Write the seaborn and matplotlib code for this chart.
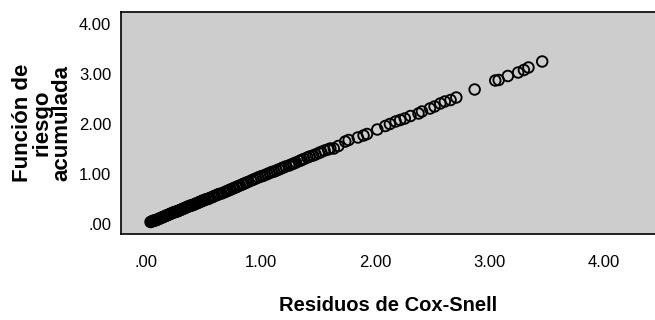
import matplotlib
matplotlib.use("Agg")
import matplotlib.pyplot as plt
import seaborn as sns
import pandas as pd

# Cox-Snell residuals and the cumulative hazard estimated on them
residuos = [
    0.04, 0.05, 0.06, 0.07, 0.08, 0.09, 0.10, 0.11, 0.12, 0.13, 0.14, 0.15,
    0.16, 0.17, 0.18, 0.19, 0.20, 0.21, 0.22, 0.23, 0.24, 0.25, 0.26, 0.27,
    0.28, 0.29, 0.30, 0.31, 0.32, 0.33, 0.34, 0.35, 0.36, 0.37, 0.38, 0.39,
    0.40, 0.41, 0.42, 0.43, 0.44, 0.45, 0.46, 0.47, 0.48, 0.49, 0.50, 0.51,
    0.52, 0.54, 0.55, 0.56, 0.58, 0.59, 0.60, 0.62, 0.63, 0.64, 0.66, 0.68,
    0.70, 0.71, 0.73, 0.74, 0.76, 0.77, 0.79, 0.80, 0.82, 0.84, 0.85, 0.87,
    0.89, 0.92, 0.94, 0.96, 0.98, 1.00, 1.02, 1.04, 1.06, 1.08, 1.10, 1.12,
    1.14, 1.16, 1.18, 1.20, 1.22, 1.25, 1.27, 1.29, 1.31, 1.34, 1.36, 1.38,
    1.41, 1.43, 1.46, 1.48, 1.51, 1.53, 1.56, 1.59, 1.61,
    1.64, 1.68, 1.74, 1.77, 1.85, 1.90, 1.93, 2.02, 2.09, 2.13, 2.18, 2.22,
    2.26, 2.31, 2.38, 2.41, 2.48, 2.52, 2.57, 2.61, 2.66, 2.71, 2.87, 3.05,
    3.08, 3.16, 3.25, 3.30, 3.34, 3.46,
]
riesgo = [
    0.04, 0.05, 0.06, 0.07, 0.07, 0.08, 0.09, 0.10, 0.11, 0.12, 0.13, 0.14,
    0.15, 0.16, 0.17, 0.18, 0.19, 0.20, 0.21, 0.22, 0.23, 0.24, 0.24, 0.25,
    0.26, 0.27, 0.28, 0.29, 0.30, 0.31, 0.32, 0.33, 0.34, 0.35, 0.36, 0.37,
    0.37, 0.38, 0.39, 0.40, 0.41, 0.42, 0.43, 0.44, 0.45, 0.46, 0.47, 0.48,
    0.49, 0.50, 0.51, 0.52, 0.54, 0.55, 0.56, 0.58, 0.59, 0.60, 0.61, 0.63,
    0.65, 0.66, 0.68, 0.69, 0.71, 0.72, 0.74, 0.75, 0.77, 0.79, 0.80, 0.82,
    0.84, 0.87, 0.89, 0.91, 0.93, 0.95, 0.96, 0.98, 1.00, 1.02, 1.04, 1.05,
    1.07, 1.09, 1.11, 1.13, 1.15, 1.17, 1.19, 1.21, 1.23, 1.26, 1.28, 1.30,
    1.33, 1.35, 1.37, 1.39, 1.42, 1.44, 1.47, 1.49, 1.51,
    1.51, 1.56, 1.65, 1.68, 1.73, 1.77, 1.80, 1.89, 1.96, 2.00, 2.05, 2.08,
    2.11, 2.16, 2.21, 2.25, 2.31, 2.35, 2.41, 2.45, 2.48, 2.53, 2.69, 2.87,
    2.88, 2.96, 3.03, 3.08, 3.13, 3.25,
]

x_ticks = [0, 1, 2, 3, 4]
x_labels = [".00", "1.00", "2.00", "3.00", "4.00"]
y_ticks = [0, 1, 2, 3, 4]
y_labels = [".00", "1.00", "2.00", "3.00", "4.00"]

df = pd.DataFrame({"Residuos de Cox-Snell": residuos,
                   "Función de riesgo acumulada": riesgo})

sns.set_style("white")
fonts = ["Liberation Sans Narrow", "Liberation Sans", "DejaVu Sans"]
plt.rcParams["font.family"] = fonts
plt.rcParams["text.color"] = "black"
plt.rcParams["axes.labelcolor"] = "black"

fig = plt.figure(figsize=(6.55, 3.2), dpi=100)
ax = fig.add_axes([121 / 655, 1 - 234 / 320, 1 - 121 / 655, (234 - 12) / 320])
ax.set_facecolor("#cdcdcd")

sns.scatterplot(data=df, x="Residuos de Cox-Snell", y="Función de riesgo acumulada",
                ax=ax, marker="o", s=58, facecolors="none", edgecolor="black",
                linewidth=1.35, legend=False)

ax.set_xlim(-0.218, 4.445)
ax.set_ylim(-0.2, 4.24)

ax.set_xticks(x_ticks)
ax.set_xticklabels(x_labels)
ax.set_yticks(y_ticks)
ax.set_yticklabels(y_labels)
ax.tick_params(axis="x", direction="out", length=9, width=1.2, pad=6,
               labelsize=12, colors="black")
ax.tick_params(axis="y", direction="out", length=6, width=1.2, pad=1,
               labelsize=12, colors="black")

for side in ("left", "bottom", "top"):
    ax.spines[side].set_visible(True)
    ax.spines[side].set_color("black")
    ax.spines[side].set_linewidth(1.2)
ax.spines["right"].set_visible(False)

ax.set_xlabel("Residuos de Cox-Snell", fontsize=14.5, fontweight="bold",
              family=fonts, color="black", labelpad=19)
ax.set_ylabel("Función de\nriesgo\nacumulada", fontsize=16, fontweight="bold",
              family=["Liberation Sans", "DejaVu Sans"], color="black",
              linespacing=0.9, labelpad=5)

fig.savefig("out.png", dpi=100)
